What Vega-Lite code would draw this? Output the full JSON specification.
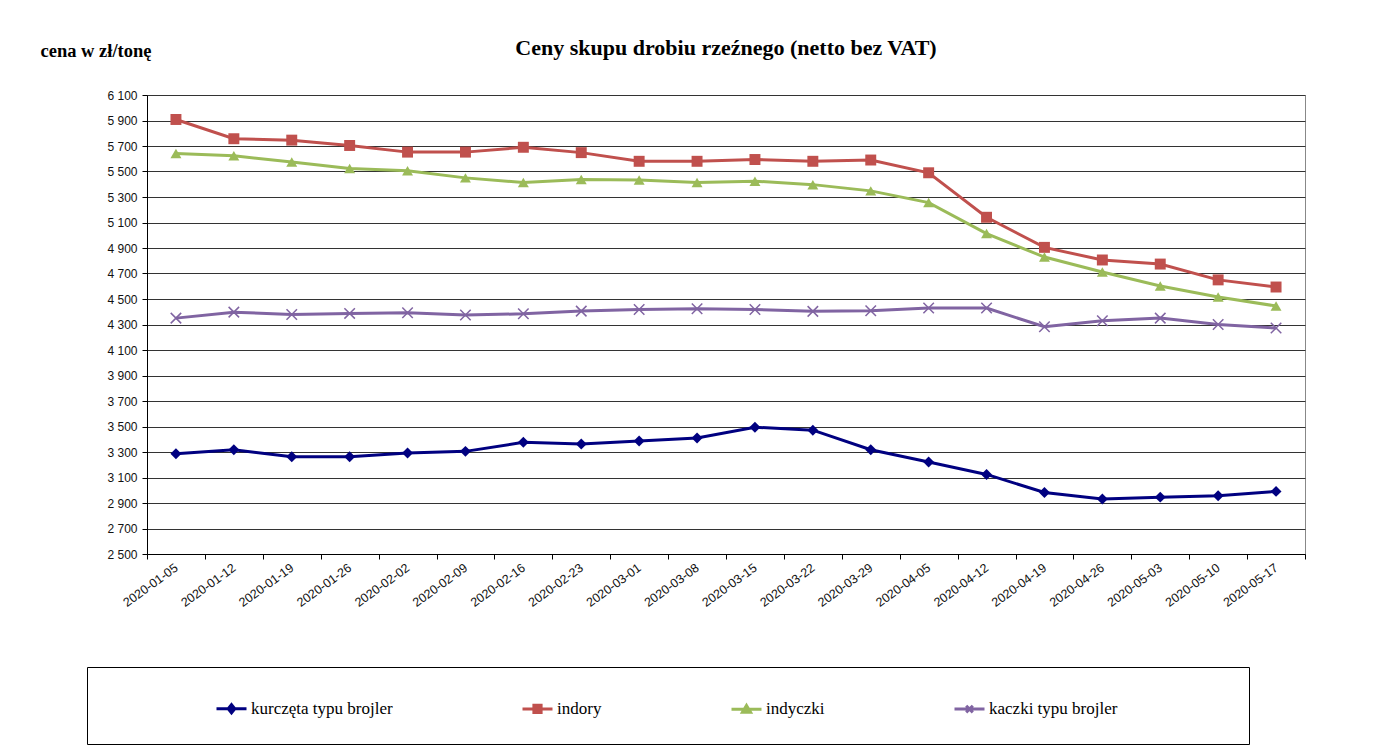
{
  "$schema": "https://vega.github.io/schema/vega-lite/v6.json",
  "autosize": "none",
  "width": 1158,
  "height": 459,
  "padding": {"left": 147, "top": 95, "right": 91, "bottom": 202},
  "background": "white",
  "title": {"text": "Ceny skupu drobiu rzeźnego (netto bez VAT)", "anchor": "middle", "font": "Liberation Serif", "fontSize": 22, "fontWeight": "bold", "color": "#000", "offset": -19},
  "config": {"view": {"stroke": "#888", "strokeWidth": 1}},
  "data": {"values": [
    {"date": "2020-01-05", "series": "kurczęta typu brojler", "value": 3287},
    {"date": "2020-01-12", "series": "kurczęta typu brojler", "value": 3318},
    {"date": "2020-01-19", "series": "kurczęta typu brojler", "value": 3262},
    {"date": "2020-01-26", "series": "kurczęta typu brojler", "value": 3262},
    {"date": "2020-02-02", "series": "kurczęta typu brojler", "value": 3292},
    {"date": "2020-02-09", "series": "kurczęta typu brojler", "value": 3305},
    {"date": "2020-02-16", "series": "kurczęta typu brojler", "value": 3376},
    {"date": "2020-02-23", "series": "kurczęta typu brojler", "value": 3363},
    {"date": "2020-03-01", "series": "kurczęta typu brojler", "value": 3386},
    {"date": "2020-03-08", "series": "kurczęta typu brojler", "value": 3410},
    {"date": "2020-03-15", "series": "kurczęta typu brojler", "value": 3494},
    {"date": "2020-03-22", "series": "kurczęta typu brojler", "value": 3471},
    {"date": "2020-03-29", "series": "kurczęta typu brojler", "value": 3318},
    {"date": "2020-04-05", "series": "kurczęta typu brojler", "value": 3221},
    {"date": "2020-04-12", "series": "kurczęta typu brojler", "value": 3124},
    {"date": "2020-04-19", "series": "kurczęta typu brojler", "value": 2983},
    {"date": "2020-04-26", "series": "kurczęta typu brojler", "value": 2931},
    {"date": "2020-05-03", "series": "kurczęta typu brojler", "value": 2946},
    {"date": "2020-05-10", "series": "kurczęta typu brojler", "value": 2957},
    {"date": "2020-05-17", "series": "kurczęta typu brojler", "value": 2991},
    {"date": "2020-01-05", "series": "indory", "value": 5908},
    {"date": "2020-01-12", "series": "indory", "value": 5757},
    {"date": "2020-01-19", "series": "indory", "value": 5746},
    {"date": "2020-01-26", "series": "indory", "value": 5704},
    {"date": "2020-02-02", "series": "indory", "value": 5652},
    {"date": "2020-02-09", "series": "indory", "value": 5652},
    {"date": "2020-02-16", "series": "indory", "value": 5690},
    {"date": "2020-02-23", "series": "indory", "value": 5648},
    {"date": "2020-03-01", "series": "indory", "value": 5580},
    {"date": "2020-03-08", "series": "indory", "value": 5580},
    {"date": "2020-03-15", "series": "indory", "value": 5594},
    {"date": "2020-03-22", "series": "indory", "value": 5580},
    {"date": "2020-03-29", "series": "indory", "value": 5590},
    {"date": "2020-04-05", "series": "indory", "value": 5490},
    {"date": "2020-04-12", "series": "indory", "value": 5141},
    {"date": "2020-04-19", "series": "indory", "value": 4905},
    {"date": "2020-04-26", "series": "indory", "value": 4806},
    {"date": "2020-05-03", "series": "indory", "value": 4774},
    {"date": "2020-05-10", "series": "indory", "value": 4650},
    {"date": "2020-05-17", "series": "indory", "value": 4594},
    {"date": "2020-01-05", "series": "indyczki", "value": 5641},
    {"date": "2020-01-12", "series": "indyczki", "value": 5623},
    {"date": "2020-01-19", "series": "indyczki", "value": 5575},
    {"date": "2020-01-26", "series": "indyczki", "value": 5523},
    {"date": "2020-02-02", "series": "indyczki", "value": 5505},
    {"date": "2020-02-09", "series": "indyczki", "value": 5450},
    {"date": "2020-02-16", "series": "indyczki", "value": 5413},
    {"date": "2020-02-23", "series": "indyczki", "value": 5438},
    {"date": "2020-03-01", "series": "indyczki", "value": 5434},
    {"date": "2020-03-08", "series": "indyczki", "value": 5413},
    {"date": "2020-03-15", "series": "indyczki", "value": 5424},
    {"date": "2020-03-22", "series": "indyczki", "value": 5397},
    {"date": "2020-03-29", "series": "indyczki", "value": 5348},
    {"date": "2020-04-05", "series": "indyczki", "value": 5256},
    {"date": "2020-04-12", "series": "indyczki", "value": 5013},
    {"date": "2020-04-19", "series": "indyczki", "value": 4829},
    {"date": "2020-04-26", "series": "indyczki", "value": 4712},
    {"date": "2020-05-03", "series": "indyczki", "value": 4602},
    {"date": "2020-05-10", "series": "indyczki", "value": 4515},
    {"date": "2020-05-17", "series": "indyczki", "value": 4445},
    {"date": "2020-01-05", "series": "kaczki typu brojler", "value": 4350},
    {"date": "2020-01-12", "series": "kaczki typu brojler", "value": 4397},
    {"date": "2020-01-19", "series": "kaczki typu brojler", "value": 4379},
    {"date": "2020-01-26", "series": "kaczki typu brojler", "value": 4387},
    {"date": "2020-02-02", "series": "kaczki typu brojler", "value": 4392},
    {"date": "2020-02-09", "series": "kaczki typu brojler", "value": 4374},
    {"date": "2020-02-16", "series": "kaczki typu brojler", "value": 4384},
    {"date": "2020-02-23", "series": "kaczki typu brojler", "value": 4405},
    {"date": "2020-03-01", "series": "kaczki typu brojler", "value": 4418},
    {"date": "2020-03-08", "series": "kaczki typu brojler", "value": 4424},
    {"date": "2020-03-15", "series": "kaczki typu brojler", "value": 4418},
    {"date": "2020-03-22", "series": "kaczki typu brojler", "value": 4403},
    {"date": "2020-03-29", "series": "kaczki typu brojler", "value": 4408},
    {"date": "2020-04-05", "series": "kaczki typu brojler", "value": 4429},
    {"date": "2020-04-12", "series": "kaczki typu brojler", "value": 4429},
    {"date": "2020-04-19", "series": "kaczki typu brojler", "value": 4282},
    {"date": "2020-04-26", "series": "kaczki typu brojler", "value": 4329},
    {"date": "2020-05-03", "series": "kaczki typu brojler", "value": 4350},
    {"date": "2020-05-10", "series": "kaczki typu brojler", "value": 4300},
    {"date": "2020-05-17", "series": "kaczki typu brojler", "value": 4272}
  ]},
  "encoding": {
    "x": {
      "field": "date", "type": "ordinal", "sort": null,
      "scale": {"paddingInner": 0, "paddingOuter": 0},
      "axis": {
        "title": null, "tickBand": "extent", "tickSize": 5, "tickColor": "#000", "domainColor": "#000",
        "labelAngle": -36, "labelAlign": "right", "labelBaseline": "middle", "labelPadding": 7,
        "labelFont": "Liberation Sans", "labelFontSize": 12.5, "labelColor": "#111", "grid": false
      }
    },
    "y": {
      "field": "value", "type": "quantitative",
      "scale": {"domain": [2500, 6100], "nice": false, "zero": false},
      "axis": {
        "values": [2500, 2700, 2900, 3100, 3300, 3500, 3700, 3900, 4100, 4300, 4500, 4700, 4900, 5100, 5300, 5500, 5700, 5900, 6100],
        "labelExpr": "replace(format(datum.value, ','), ',', ' ')",
        "grid": true, "gridColor": "#333", "gridWidth": 1, "gridOpacity": 1,
        "tickSize": 5, "tickColor": "#000", "domainColor": "#000",
        "labelFont": "Liberation Sans", "labelFontSize": 12, "labelColor": "#111", "labelPadding": 5,
        "title": "cena w zł/tonę", "titleAngle": 0, "titleX": -107, "titleY": -45,
        "titleAlign": "left", "titleBaseline": "middle",
        "titleFont": "Liberation Serif", "titleFontSize": 18.5, "titleFontWeight": "bold", "titleColor": "#000"
      }
    },
    "color": {
      "field": "series", "type": "nominal",
      "scale": {
        "domain": ["kurczęta typu brojler", "indory", "indyczki", "kaczki typu brojler"],
        "range": ["#000080", "#C0504D", "#9BBB59", "#8064A2"]
      },
      "legend": {
        "title": "\u00a0", "titleOrient": "left", "titlePadding": 103, "titleFontSize": 17, "titleFont": "Liberation Serif",
        "orient": "none", "legendX": -60, "legendY": 572,
        "direction": "horizontal", "columns": 4, "columnPadding": 123,
        "strokeColor": "#000", "padding": 25,
        "labelFont": "Liberation Serif", "labelFontSize": 17, "labelColor": "#000", "labelOffset": 3, "labelLimit": 500,
        "symbolSize": 900, "symbolStrokeWidth": 3,
        "encode": {
          "labels": {
            "update": {
              "text": {"signal": "datum.value == 'kaczki typu brojler' ? datum.value + '\u00a0\u00a0\u00a0\u00a0\u00a0\u00a0\u00a0\u00a0\u00a0\u00a0\u00a0\u00a0\u00a0\u00a0\u00a0\u00a0\u00a0\u00a0\u00a0\u00a0\u00a0\u00a0\u00a0\u00a0\u00a0\u200b' : datum.value"}
            }
          },
          "symbols": {
            "update": {
              "shape": {"signal": "datum.value == 'kurczęta typu brojler' ? 'M-1,0H1M0,-0.27L0.22,0L0,0.27L-0.22,0Z' : datum.value == 'indory' ? 'M-1,0H1M-0.24,-0.24H0.24V0.24H-0.24Z' : datum.value == 'indyczki' ? 'M-1,0H1M0,-0.25L0.27,0.2H-0.27Z' : 'M-1,0H1M-0.22,-0.22L0.22,0.22M-0.22,0.22L0.22,-0.22'"},
              "fill": {"signal": "scale('color', datum.value)"},
              "stroke": {"signal": "scale('color', datum.value)"},
              "strokeWidth": {"value": 3},
              "opacity": {"value": 1}
            }
          }
        }
      }
    }
  },
  "layer": [
    {"mark": {"type": "line", "strokeWidth": 3}},
    {
      "transform": [{"filter": "datum.series != 'kaczki typu brojler'"}],
      "mark": {"type": "point", "filled": true, "opacity": 1, "size": 120},
      "encoding": {
        "shape": {
          "field": "series", "type": "nominal",
          "scale": {"domain": ["kurczęta typu brojler", "indory", "indyczki"], "range": ["diamond", "square", "triangle-up"]},
          "legend": null
        }
      }
    },
    {
      "transform": [{"filter": "datum.series == 'kaczki typu brojler'"}],
      "mark": {"type": "point", "shape": "M-1,-1L1,1M-1,1L1,-1", "size": 110, "strokeWidth": 1.5, "opacity": 1, "filled": false}
    }
  ]
}
